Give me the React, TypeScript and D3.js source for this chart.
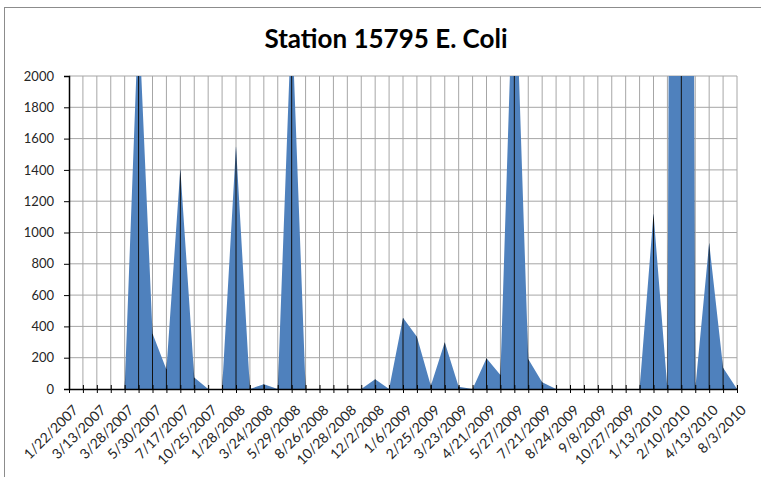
import React, { useEffect, useRef } from 'react'
import * as d3 from 'd3'

// every other category is labelled on the axis
const tickLabels = [
  '1/22/2007', '3/13/2007', '3/28/2007', '5/30/2007', '7/17/2007', '10/25/2007',
  '1/28/2008', '3/24/2008', '5/29/2008', '8/26/2008', '10/28/2008', '12/2/2008',
  '1/6/2009', '2/25/2009', '3/23/2009', '4/21/2009', '5/27/2009', '7/21/2009',
  '8/24/2009', '9/8/2009', '10/27/2009', '1/13/2010', '2/10/2010', '4/13/2010', '8/3/2010'
]

// E. coli counts, one per sample (49 samples)
const ecoli = [
  0, 0, 0, 0, 0, 2400, 355, 125, 1408, 74,
  0, 0, 1553, 0, 30, 0, 2400, 0, 0, 0,
  0, 0, 62, 0, 455, 334, 20, 298, 15, 0,
  196, 89, 2900, 191, 43, 0, 0, 0, 0, 0,
  0, 0, 1121, 0, 24000, 0, 934, 135, 0
]

const yTicks = [0, 200, 400, 600, 800, 1000, 1200, 1400, 1600, 1800, 2000]

const W = 761
const H = 477
const margin = { top: 76, right: 24, bottom: 88, left: 69 }

export default function App() {
  const ref = useRef<SVGSVGElement>(null)

  useEffect(() => {
    const svg = d3.select(ref.current)
    svg.selectAll('*').remove()

    const chartWidth = W - margin.left - margin.right
    const chartHeight = H - margin.top - margin.bottom

    const xScale = d3.scaleLinear()
      .domain([0, ecoli.length - 1])
      .range([0, chartWidth])

    const yScale = d3.scaleLinear()
      .domain([0, 2000])
      .range([chartHeight, 0])

    // outer frame (left + top only visible)
    svg.append('rect')
      .attr('x', 4.5).attr('y', 7.5)
      .attr('width', 900).attr('height', 600)
      .attr('fill', 'none')
      .attr('stroke', '#8c8c8c')

    svg.append('text')
      .attr('x', 386).attr('y', 48)
      .attr('text-anchor', 'middle')
      .attr('font-family', 'Lato, sans-serif')
      .attr('font-weight', 'bold')
      .attr('font-size', 26)
      .attr('fill', '#000')
      .text('Station 15795 E. Coli')

    const g = svg.append('g')
      .attr('transform', 'translate(' + margin.left + ',' + margin.top + ')')

    const defs = svg.append('defs')
    defs.append('clipPath').attr('id', 'plotClip')
      .append('rect').attr('width', chartWidth).attr('height', chartHeight)

    const area = d3.area<number>()
      .x((d, i) => xScale(i))
      .y0(yScale(0))
      .y1((d) => yScale(d))

    defs.append('clipPath').attr('id', 'areaClip')
      .append('path').attr('d', area(ecoli))

    // grid
    const grid = g.append('g').attr('class', 'grid')
    grid.selectAll('.hline')
      .data(yTicks.slice(1))
      .enter().append('line')
      .attr('x1', 0).attr('x2', chartWidth)
      .attr('y1', (d) => yScale(d)).attr('y2', (d) => yScale(d))
      .attr('stroke', '#a6a6a6')
    grid.selectAll('.vline')
      .data(d3.range(1, ecoli.length))
      .enter().append('line')
      .attr('x1', (d) => xScale(d)).attr('x2', (d) => xScale(d))
      .attr('y1', 0).attr('y2', chartHeight)
      .attr('stroke', '#a6a6a6')

    g.append('path')
      .datum(ecoli)
      .attr('clip-path', 'url(#plotClip)')
      .attr('fill', '#4f81bd')
      .attr('d', area)

    // gridlines show dark where they cross the filled area
    const dark = g.append('g')
      .attr('clip-path', 'url(#plotClip)')
      .append('g')
      .attr('clip-path', 'url(#areaClip)')
    dark.selectAll('line')
      .data(d3.range(1, ecoli.length))
      .enter().append('line')
      .attr('x1', (d) => xScale(d)).attr('x2', (d) => xScale(d))
      .attr('y1', 0).attr('y2', chartHeight)
      .attr('stroke', '#111')

    // y axis
    const yAxis = g.append('g')
      .call(d3.axisLeft(yScale).tickValues(yTicks).tickSize(5).tickPadding(10).tickFormat(d3.format('d')))
    yAxis.select('.domain').attr('stroke', '#000').attr('stroke-width', 1.5)
    yAxis.selectAll('.tick line').attr('stroke', '#000')
    yAxis.selectAll('text')
      .attr('font-family', 'Lato, sans-serif')
      .attr('font-size', 13)
      .attr('fill', '#262626')

    // x axis
    const xAxis = g.append('g')
      .attr('transform', 'translate(0,' + chartHeight + ')')
      .call(d3.axisBottom(xScale).tickValues(d3.range(0, ecoli.length)).tickSize(0).tickFormat(() => ''))
    xAxis.select('.domain').attr('stroke', '#000').attr('stroke-width', 1.5)
    xAxis.selectAll('.tick line')
      .attr('y1', -4).attr('y2', 4)
      .attr('stroke', '#000')

    g.append('g')
      .selectAll('text')
      .data(tickLabels)
      .enter().append('text')
      .attr('transform', (d, i) => 'translate(' + (xScale(i * 2) + 3) + ',' + (chartHeight + 15) + ') rotate(-45)')
      .attr('text-anchor', 'end')
      .attr('dy', '0.7em')
      .attr('font-family', 'Lato, sans-serif')
      .attr('font-size', 14)
      .attr('fill', '#262626')
      .text((d) => d)
  }, [])

  return (
    <svg ref={ref} width={W} height={H} style={{ position: 'absolute', left: 0, top: 0, background: '#fff' }} />
  )
}
